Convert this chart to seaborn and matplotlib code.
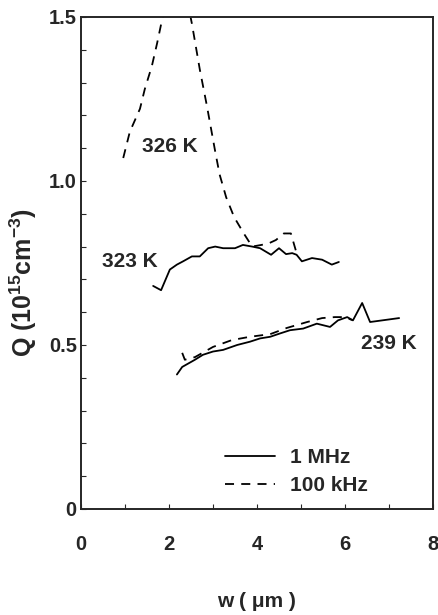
import numpy as np
import pandas as pd
import seaborn as sns
import matplotlib
matplotlib.use("Agg")
import matplotlib.pyplot as plt
from matplotlib.lines import Line2D
from matplotlib.ticker import MultipleLocator

# Q vs depletion width w, for three temperatures, at 1 MHz and 100 kHz
w_323_1m = [1.64, 1.82, 2.02, 2.18, 2.32, 2.52, 2.70, 2.89, 3.05, 3.23, 3.50, 3.68,
            3.89, 4.07, 4.32, 4.50, 4.66, 4.80, 4.90, 5.02, 5.25, 5.48, 5.70, 5.86]
q_323_1m = [0.680, 0.667, 0.730, 0.745, 0.755, 0.770, 0.770, 0.795, 0.800, 0.795, 0.795, 0.805,
            0.800, 0.795, 0.775, 0.795, 0.777, 0.780, 0.775, 0.755, 0.765, 0.760, 0.745, 0.753]

w_326_100k = [0.96, 1.11, 1.34, 1.45, 1.61, 1.73, 1.84, 2.00, 2.20, 2.40, 2.52, 2.70,
              2.86, 3.05, 3.15, 3.30, 3.48, 3.70, 3.89, 4.10, 4.27, 4.43, 4.61, 4.77, 4.90]
q_326_100k = [1.07, 1.15, 1.22, 1.28, 1.35, 1.42, 1.49, 1.56, 1.60, 1.56, 1.48, 1.34,
              1.23, 1.09, 1.02, 0.95, 0.89, 0.84, 0.80, 0.805, 0.81, 0.82, 0.84, 0.84, 0.78]

w_239_1m = [2.18, 2.30, 2.59, 2.77, 3.00, 3.23, 3.55, 3.84, 4.07, 4.30, 4.52, 4.75,
            5.05, 5.36, 5.66, 5.84, 6.05, 6.18, 6.39, 6.57, 7.23]
q_239_1m = [0.410, 0.433, 0.455, 0.470, 0.480, 0.485, 0.500, 0.510, 0.520, 0.525, 0.535, 0.545,
            0.550, 0.565, 0.555, 0.575, 0.585, 0.575, 0.628, 0.570, 0.582]

w_239_100k = [2.30, 2.36, 2.59, 3.00, 3.43, 3.84, 4.30, 4.68, 5.14, 5.48, 5.77, 6.00, 6.16]
q_239_100k = [0.476, 0.455, 0.463, 0.494, 0.515, 0.525, 0.533, 0.552, 0.570, 0.582, 0.585, 0.585, 0.576]

freq_labels = ["1 MHz", "100 kHz"]
temp_labels = ["326 K", "323 K", "239 K"]
temp_label_pos = [(2.02, 1.104), (1.10, 0.753), (7.00, 0.506)]
x_ticks = [0, 2, 4, 6, 8]
y_ticks = [0, 0.5, 1.0, 1.5]
y_tick_labels = ["0", "0.5", "1.0", "1.5"]

curves = [
    (w_323_1m, q_323_1m, freq_labels[0]),
    (w_326_100k, q_326_100k, freq_labels[1]),
    (w_239_1m, q_239_1m, freq_labels[0]),
    (w_239_100k, q_239_100k, freq_labels[1]),
]

sns.set_style("ticks")
plt.rcParams["font.family"] = ["Liberation Sans", "DejaVu Sans"]
plt.rcParams["font.weight"] = "bold"
plt.rcParams["mathtext.fontset"] = "custom"
plt.rcParams["mathtext.rm"] = "Liberation Sans:bold"
plt.rcParams["mathtext.bf"] = "Liberation Sans:bold"
plt.rcParams["mathtext.default"] = "bf"

fig = plt.figure(figsize=(4.38, 6.15), dpi=100)
ax = fig.add_axes([0.1849, 0.1724, 0.8037, 0.8])

line_styles = {freq_labels[0]: "-", freq_labels[1]: (0, (5, 4))}
for w, q, f in curves:
    df = pd.DataFrame({"w": w, "Q": q})
    sns.lineplot(data=df, x="w", y="Q", ax=ax, color="black", lw=1.3,
                 linestyle=line_styles[f], estimator=None, sort=False)

for lab, (tx, ty) in zip(temp_labels, temp_label_pos):
    ax.text(tx, ty, lab, ha="center", va="center", fontsize=15, fontweight="bold")

ax.set_xlim(0, 8)
ax.set_ylim(0, 1.5)
ax.set_xticks(x_ticks)
ax.set_yticks(y_ticks)
ax.set_yticklabels(y_tick_labels)
ax.xaxis.set_minor_locator(MultipleLocator(1))
ax.yaxis.set_minor_locator(MultipleLocator(0.1))
ax.tick_params(which="both", direction="in", length=3.5, width=0.8, labelsize=14.5)
ax.tick_params(axis="x", which="major", pad=19)
ax.tick_params(axis="y", which="major", pad=3)
for lab in ax.get_xticklabels() + ax.get_yticklabels():
    lab.set_fontweight("bold")
for sp in ax.spines.values():
    sp.set_linewidth(1.4)
    sp.set_visible(True)

ax.set_xlabel("w ( \u03bcm )", fontsize=15, fontweight="bold")
ax.xaxis.set_label_coords(0.5, -0.168)
ax.set_ylabel("Q (10$^{15}$cm$^{-3}$)", fontsize=18, fontweight="bold")
ax.yaxis.set_label_coords(-0.118, 0.46)

handles = [Line2D([], [], color="black", lw=1.3, linestyle=line_styles[f]) for f in freq_labels]
ax.legend(handles, freq_labels, loc="lower left", bbox_to_anchor=(0.409, 0.028),
          frameon=False, handlelength=2.4, handletextpad=0.7,
          labelspacing=0.45, borderpad=0, borderaxespad=0,
          prop={"weight": "bold", "size": 15})

fig.savefig("out.png", dpi=100)
